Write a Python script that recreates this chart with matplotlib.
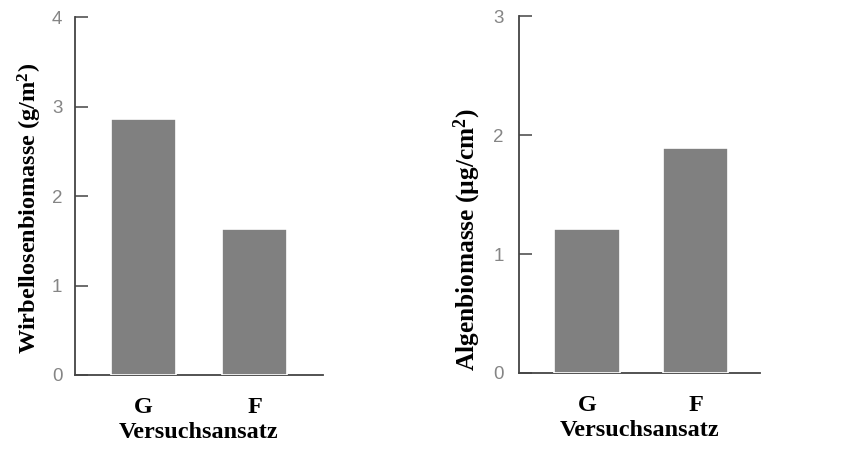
import numpy as np
import matplotlib
matplotlib.use('Agg')
import matplotlib.pyplot as plt

plt.rcParams['mathtext.fontset'] = 'custom'
plt.rcParams['mathtext.rm'] = 'Liberation Serif:bold'
plt.rcParams['mathtext.it'] = 'Liberation Serif:bold'
plt.rcParams['mathtext.bf'] = 'Liberation Serif:bold'

# Daten
kategorien = ['G', 'F']
wirbellose = [2.86, 1.63]   # g/m2
algen = [1.21, 1.89]        # µg/cm2

bar_farbe = '#808080'
achsen_farbe = '#444444'
serif = 'Liberation Serif'

fig = plt.figure(figsize=(8.63, 4.66), dpi=100, facecolor='white')
ax1 = fig.add_axes([0.0869, 0.1953, 0.2874, 0.768])
ax2 = fig.add_axes([0.6014, 0.1996, 0.2793, 0.766])


def panel(ax, werte, ymax, xlim, breite, ylabel, pad, lpad, ysize, ypos):
    x = np.arange(len(kategorien))
    ax.bar(x, werte, width=breite, color=bar_farbe, edgecolor='white',
           linewidth=1.2, zorder=3)
    ax.set_xlim(*xlim)
    ax.set_ylim(0, ymax)
    ax.set_yticks(range(ymax + 1))
    ax.set_yticklabels([str(i) for i in range(ymax + 1)],
                       fontfamily='Liberation Sans')
    ax.set_xticks(x)
    ax.set_xticklabels(kategorien, fontfamily=serif, fontweight='bold',
                       fontsize=17.5)
    for s in ['top', 'right']:
        ax.spines[s].set_visible(False)
    for s in ['left', 'bottom']:
        ax.spines[s].set_color(achsen_farbe)
        ax.spines[s].set_linewidth(1.3)
    ax.tick_params(axis='y', direction='in', length=9, width=1.1,
                   color=achsen_farbe, labelcolor='#858585', labelsize=13.5,
                   pad=pad)
    ax.tick_params(axis='x', length=0, pad=16)
    ax.set_ylabel(ylabel, fontfamily=serif, fontweight='bold', fontsize=ysize,
                  labelpad=lpad)
    ax.yaxis.label.set_y(ypos)
    ax.set_xlabel('Versuchsansatz', fontfamily=serif, fontweight='bold',
                  fontsize=17.5, labelpad=3)


panel(ax1, wirbellose, 4, (-0.617, 1.617), 0.586,
      'Wirbellosenbiomasse (g/m$^2$)', 9, 6, 17.5, 0.464)
panel(ax2, algen, 3, (-0.627, 1.594), 0.6,
      'Algenbiomasse (µg/cm$^2$)', 11, 7.5, 18.3, 0.373)

fig.savefig('out.png', dpi=100, facecolor='white')
